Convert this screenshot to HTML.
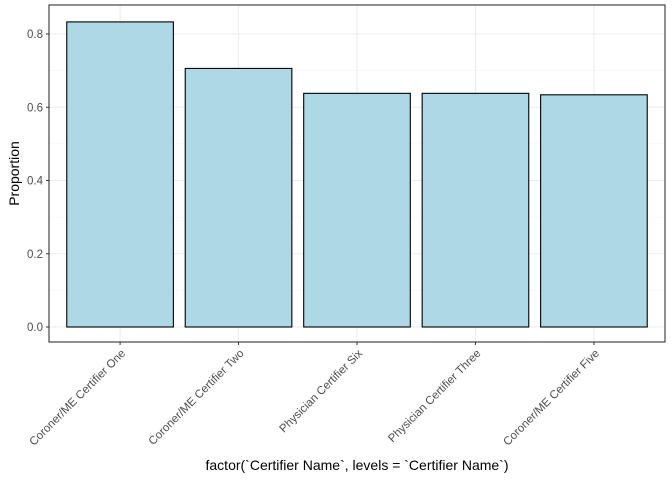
<!DOCTYPE html>
<html><head><meta charset="utf-8"><style>
body{margin:0;background:#fff;}
svg{display:block;font-family:"Liberation Sans",Arial,sans-serif;}
</style></head><body>
<svg id="chart" width="672" height="480"></svg>
<script>
const categories=["Coroner/ME Certifier One","Coroner/ME Certifier Two","Physician Certifier Six","Physician Certifier Three","Coroner/ME Certifier Five"];
const values=[0.833,0.706,0.638,0.638,0.634];
const yTicks=[0,0.2,0.4,0.6,0.8];
const yTickLabels=["0.0","0.2","0.4","0.6","0.8"];
const NS="http://www.w3.org/2000/svg";
const svg=document.getElementById('chart');
const L=49,R=665,T=5,B=342;
const y0=327,yPer=(327-34)/0.8;
const y=v=>y0-v*yPer;
const band=(R-L)/(categories.length-1+1.2);
const x=i=>L+band*(0.6+i);
function el(t,a){const e=document.createElementNS(NS,t);for(const k in a)e.setAttribute(k,a[k]);svg.appendChild(e);return e;}
const bg=el('rect',{x:L,y:T,width:R-L,height:B-T,fill:'#fff'});


// minor grid
for(let i=0;i<yTicks.length-1;i++){const m=(yTicks[i]+yTicks[i+1])/2;const g=el('line',{x1:L,x2:R,y1:y(m),y2:y(m),stroke:'#f2f2f2','stroke-width':0.6});}
{const m=yTicks[yTicks.length-1]+0.1;const g=el('line',{x1:L,x2:R,y1:y(m),y2:y(m),stroke:'#f2f2f2','stroke-width':0.6});}
yTicks.forEach((t,i)=>{
const g=el('line',{x1:L,x2:R,y1:y(t),y2:y(t),stroke:'#ebebeb','stroke-width':1});

const tk=el('line',{x1:L-3,x2:L,y1:y(t),y2:y(t),stroke:'#333','stroke-width':1});

const tx=el('text',{x:L-6,y:y(t)+4,'text-anchor':'end','font-size':11.5,fill:'#4d4d4d'});tx.textContent=yTickLabels[i];

});
categories.forEach((c,i)=>{
const g=el('line',{x1:x(i),x2:x(i),y1:T,y2:B,stroke:'#ebebeb','stroke-width':1});

});
categories.forEach((c,i)=>{
const w=band*0.9;
const b=el('rect',{x:x(i)-w/2,y:y(values[i]),width:w,height:y(0)-y(values[i]),fill:'#add8e6',stroke:'#000','stroke-width':1.1});

const tk=el('line',{x1:x(i),x2:x(i),y1:B,y2:B+3,stroke:'#333','stroke-width':1});

const tx=el('text',{x:x(i)+6,y:B+12,'text-anchor':'end','font-size':11.5,fill:'#4d4d4d',transform:`rotate(-45 ${x(i)+6} ${B+12})`});tx.textContent=c;

});
const fr=el('rect',{x:L,y:T,width:R-L,height:B-T,fill:'none',stroke:'#333','stroke-width':1.1});

const xt=el('text',{x:(L+R)/2,y:470,'text-anchor':'middle','font-size':14,fill:'#000'});xt.textContent='factor(`Certifier Name`, levels = `Certifier Name`)';

const yt=el('text',{x:19,y:(T+B)/2,'text-anchor':'middle','font-size':14,fill:'#000',transform:`rotate(-90 19 ${(T+B)/2})`});yt.textContent='Proportion';

</script>
</body></html>
